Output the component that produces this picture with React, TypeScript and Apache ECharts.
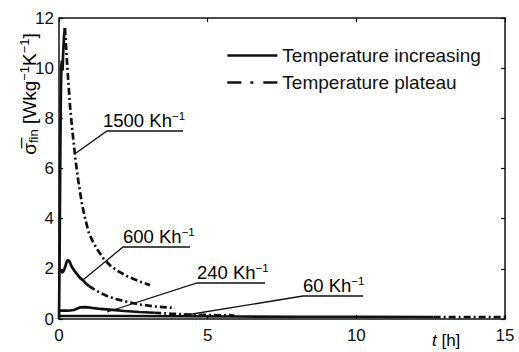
import React, { useEffect, useRef } from "react";
import * as echarts from "echarts";

// ---- data (t in h, sigma in W kg^-1 K^-1) ----
const t1500Inc = [0, 0.02, 0.04, 0.06, 0.08, 0.1, 0.12, 0.14, 0.17, 0.2];
const v1500Inc = [0, 2.5, 6.0, 8.8, 10.1, 10.3, 9.9, 10.6, 11.3, 11.6];
const t1500Pla = [0.2, 0.25, 0.3, 0.37, 0.45, 0.55, 0.65, 0.77, 0.88, 1.0, 1.15, 1.3, 1.5, 1.75, 2.0, 2.3, 2.7, 3.06];
const v1500Pla = [11.6, 10.6, 9.7, 8.5, 7.5, 6.4, 5.5, 4.6, 4.0, 3.45, 3.05, 2.75, 2.4, 2.1, 1.9, 1.7, 1.5, 1.35];

const t600Inc = [0, 0.05, 0.1, 0.15, 0.2, 0.25, 0.3, 0.35, 0.42, 0.5, 0.6, 0.7, 0.8, 0.9, 1.0];
const v600Inc = [1.95, 1.95, 1.85, 1.9, 2.05, 2.25, 2.35, 2.3, 2.1, 1.95, 1.8, 1.65, 1.55, 1.42, 1.32];
const t600Pla = [1.0, 1.2, 1.4, 1.6, 1.9, 2.3, 2.7, 3.2, 3.9];
const v600Pla = [1.32, 1.17, 1.03, 0.93, 0.8, 0.68, 0.58, 0.5, 0.44];

const t240Inc = [0, 0.3, 0.5, 0.7, 0.9, 1.1, 1.4, 1.8, 2.2, 2.7, 3.2];
const v240Inc = [0.33, 0.33, 0.36, 0.46, 0.47, 0.44, 0.4, 0.36, 0.32, 0.28, 0.25];
const t240Pla = [3.2, 3.8, 4.4, 5.0, 5.9];
const v240Pla = [0.25, 0.21, 0.18, 0.16, 0.14];

const t60Inc = [0, 2, 4, 6, 8, 10, 12.6];
const v60Inc = [0.12, 0.12, 0.11, 0.1, 0.09, 0.09, 0.08];
const t60Pla = [12.6, 13.5, 14.3, 15];
const v60Pla = [0.08, 0.08, 0.08, 0.08];

const rateLabels = ["1500 Kh", "600 Kh", "240 Kh", "60 Kh"];

const INC = "Temperature increasing";
const PLA = "Temperature plateau";
const FONT = "Liberation Sans";
const INK = "#111";

const zip = (t: number[], v: number[]) => t.map((x, i) => [x, v[i]]);

export default function App() {
  const ref = useRef<HTMLDivElement>(null);
  useEffect(() => {
    const chart = echarts.init(ref.current!, null, { renderer: "svg" });
    const solid = { type: "solid", width: 2.7, color: INK };
    const dashdot = { type: [7, 3, 2, 3], width: 2.7, color: INK };
    const mk = (name: string, data: number[][], ls: any) => ({
      type: "line",
      name,
      data,
      symbol: "none",
      lineStyle: ls,
      itemStyle: { color: INK },
      silent: true,
    });
    const axisLine = { show: true, onZero: false, lineStyle: { color: INK, width: 1.5 } };
    const axisTick = { show: true, inside: true, length: 4, lineStyle: { color: INK, width: 1.2 } };
    const lbl = { fontSize: 17, fontFamily: FONT, color: INK };

    const sup = { fontSize: 11.5, fontFamily: FONT, color: INK, verticalAlign: "top", lineHeight: 20 };
    const nrm = { fontSize: 18.5, fontFamily: FONT, color: INK, lineHeight: 20 };
    const ann = (x: number, y: number, text: string, pts: number[][]) => [
      {
        type: "text",
        x,
        y,
        style: {
          text: `{n|${text}}{s|−1}`,
          rich: { n: nrm, s: sup },
          align: "left",
          verticalAlign: "bottom",
        },
      },
      {
        type: "polyline",
        shape: { points: pts },
        style: { stroke: INK, lineWidth: 1.3, fill: "none" },
      },
    ];

    chart.setOption({
      animation: false,
      grid: { left: 59, top: 18, right: 14, bottom: 33 },
      xAxis: [
        {
          type: "value", min: 0, max: 15, interval: 5, position: "bottom",
          axisLine, axisTick, axisLabel: { ...lbl, margin: 8 }, splitLine: { show: false },
        },
        {
          type: "value", min: 0, max: 15, interval: 5, position: "top",
          axisLine, axisTick, axisLabel: { show: false }, splitLine: { show: false },
        },
      ],
      yAxis: [
        {
          type: "value", min: 0, max: 12, interval: 2, position: "left",
          axisLine, axisTick, axisLabel: { ...lbl, margin: 5 }, splitLine: { show: false },
        },
        {
          type: "value", min: 0, max: 12, interval: 2, position: "right",
          axisLine, axisTick, axisLabel: { show: false }, splitLine: { show: false },
        },
      ],
      legend: {
        orient: "vertical",
        left: 226,
        top: 46,
        padding: 0,
        itemWidth: 50,
        itemHeight: 14,
        itemGap: 8,
        textStyle: { fontSize: 19, fontFamily: FONT, color: INK },
        data: [
          { name: INC, itemStyle: { opacity: 0 }, lineStyle: { type: "solid", width: 2.7, color: INK } },
          { name: PLA, itemStyle: { opacity: 0 }, lineStyle: { type: [14, 9, 3, 10], width: 2.7, color: INK } },
        ],
      },
      series: [
        mk(INC, zip(t1500Inc, v1500Inc), solid),
        mk(PLA, zip(t1500Pla, v1500Pla), dashdot),
        mk(INC, zip(t600Inc, v600Inc), solid),
        mk(PLA, zip(t600Pla, v600Pla), dashdot),
        mk(INC, zip(t240Inc, v240Inc), solid),
        mk(PLA, zip(t240Pla, v240Pla), dashdot),
        mk(INC, zip(t60Inc, v60Inc), solid),
        mk(PLA, zip(t60Pla, v60Pla), dashdot),
      ],
      graphic: [
        ...ann(103, 130, rateLabels[0], [[76, 153], [107, 131], [183, 131]]),
        ...ann(123, 246, rateLabels[1], [[83, 280], [123, 247], [190, 247]]),
        ...ann(197, 282, rateLabels[2], [[107, 312], [197, 283], [265, 283]]),
        ...ann(303, 295, rateLabels[3], [[180, 316], [303, 296], [363, 296]]),
        {
          type: "text",
          x: 29,
          y: 94,
          rotation: Math.PI / 2,
          style: {
            text: "{m|σ\u0305}{sub|fin}{m| [Wkg}{sup|−1}{m|K}{sup|−1}{m|]}",
            rich: {
              m: { fontSize: 19, fontFamily: FONT, color: INK, lineHeight: 22 },
              sub: { fontSize: 13, fontFamily: FONT, color: INK, verticalAlign: "bottom", lineHeight: 22 },
              sup: { fontSize: 13, fontFamily: FONT, color: INK, verticalAlign: "top", lineHeight: 22 },
            },
            align: "center",
            verticalAlign: "middle",
          },
        },
        {
          type: "text",
          x: 432,
          y: 340,
          style: {
            text: "{i|t}{r| [h]}",
            rich: {
              i: { fontSize: 17, fontFamily: FONT, fontStyle: "italic", color: INK },
              r: { fontSize: 17, fontFamily: FONT, color: INK },
            },
            align: "left",
            verticalAlign: "middle",
          },
        },
      ],
    });
    return () => chart.dispose();
  }, []);
  return (
    <div
      ref={ref}
      style={{ position: "fixed", left: 0, top: 0, width: 519, height: 352, background: "#fff" }}
    />
  );
}
